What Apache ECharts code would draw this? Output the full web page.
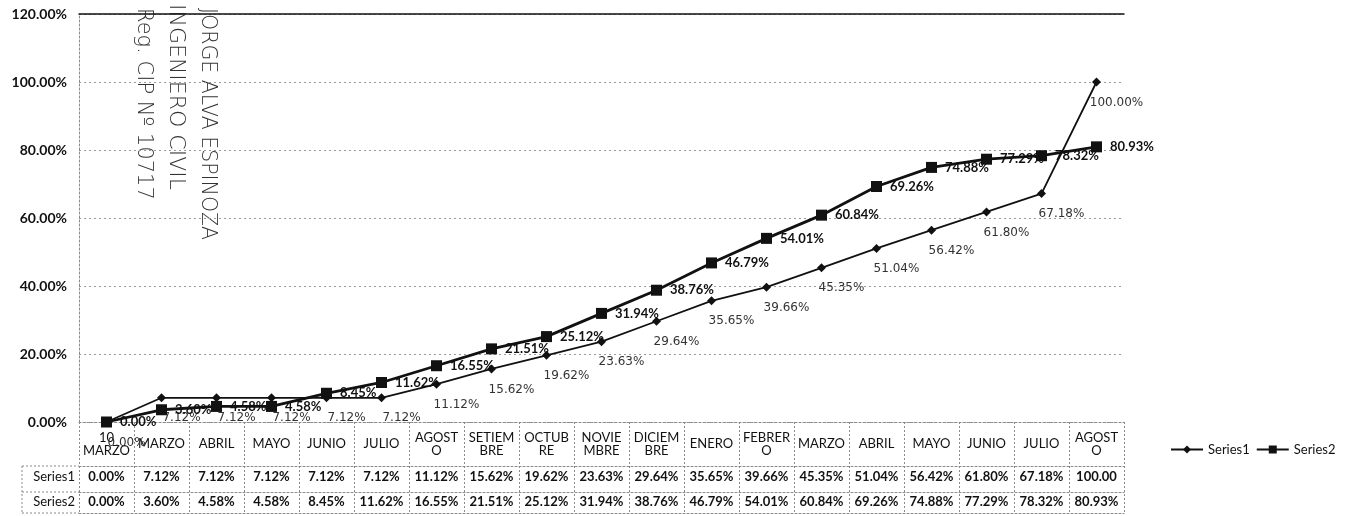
<!DOCTYPE html>
<html><head><meta charset="utf-8">
<script src="https://cdn.jsdelivr.net/npm/echarts@6/dist/echarts.min.js"></script>
<style>html,body{margin:0;padding:0;background:#fff}#c{width:1346px;height:516px}</style>
</head><body><div id="c"></div>
<script>
const categories = ['10\nMARZO','MARZO','ABRIL','MAYO','JUNIO','JULIO','AGOST\nO','SETIEM\nBRE','OCTUB\nRE','NOVIE\nMBRE','DICIEM\nBRE','ENERO','FEBRER\nO','MARZO','ABRIL','MAYO','JUNIO','JULIO','AGOST\nO'];
const series1 = [0.00,7.12,7.12,7.12,7.12,7.12,11.12,15.62,19.62,23.63,29.64,35.65,39.66,45.35,51.04,56.42,61.80,67.18,100.00];
const series2 = [0.00,3.60,4.58,4.58,8.45,11.62,16.55,21.51,25.12,31.94,38.76,46.79,54.01,60.84,69.26,74.88,77.29,78.32,80.93];
const seriesNames = ['Series1','Series2'];
const yTicks = {min:0, max:120, interval:20};
const stampLines = ['Reg. CIP Nº 10717','INGENIERO CIVIL','JORGE ALVA ESPINOZA'];

const pct = v => (+v).toFixed(2) + '%';
const F = 'Lato, "Open Sans", sans-serif';
const dotted = {color:'#8a8a8a', type:[2,2], width:1};

const chart = echarts.init(document.getElementById('c'), null, {renderer:'canvas'});
const gridTop = 14, gridBottom = 94, gridLeft = 79, gridRight = 222;
const chartBottomY = 516 - gridBottom;

chart.setOption({
  animation:false,
  backgroundColor:'#fff',
  grid:{left:gridLeft,right:gridRight,top:gridTop,bottom:gridBottom,containLabel:false},
  legend:{
    left:1165, top:438, itemWidth:32, itemHeight:10, itemGap:6,
    textStyle:{fontFamily:F,fontSize:13,color:'#111'},
    data:seriesNames
  },
  xAxis:[
    {type:'category', data:categories, position:'bottom', boundaryGap:true,
     axisLine:{lineStyle:dotted},
     axisTick:{show:true, length:91, interval:0, lineStyle:dotted},
     axisLabel:{interval:0, margin:22, verticalAlign:'middle', fontFamily:F, fontSize:13, color:'#111', lineHeight:13}},
    {type:'category', data:series1, position:'bottom', offset:44, boundaryGap:true,
     name:seriesNames[0], nameLocation:'start', nameGap:4,
     nameTextStyle:{fontFamily:F,fontSize:13,color:'#111',verticalAlign:'top',padding:[4,0,0,0]},
     axisLine:{lineStyle:dotted}, axisTick:{show:false},
     axisLabel:{interval:0, margin:11, verticalAlign:'middle', fontFamily:F, fontSize:13, fontWeight:'bold', color:'#111',
       formatter:pct, width:50, overflow:'truncate', ellipsis:''}},
    {type:'category', data:series2, position:'bottom', offset:70, boundaryGap:true,
     name:seriesNames[1], nameLocation:'start', nameGap:4,
     nameTextStyle:{fontFamily:F,fontSize:13,color:'#111',verticalAlign:'top',padding:[3,0,0,0]},
     axisLine:{lineStyle:dotted}, axisTick:{show:false},
     axisLabel:{interval:0, margin:10, verticalAlign:'middle', fontFamily:F, fontSize:13, fontWeight:'bold', color:'#111', formatter:pct}},
    {type:'category', data:categories, position:'bottom', offset:91,
     axisLine:{lineStyle:dotted}, axisTick:{show:false}, axisLabel:{show:false}},
    {type:'category', data:categories, position:'top',
     axisLine:{lineStyle:{color:'#111',width:1.5}}, axisTick:{show:false}, axisLabel:{show:false}}
  ],
  yAxis:{type:'value', min:yTicks.min, max:yTicks.max, interval:yTicks.interval,
    axisLine:{show:true, lineStyle:dotted}, axisTick:{show:false},
    splitLine:{show:true, lineStyle:{color:'#9a9a9a', type:[2,3], width:1}},
    axisLabel:{formatter:v=>pct(v), margin:12, fontFamily:F, fontSize:14, fontWeight:'bold', color:'#111'}},
  graphic:[
    {type:'line', shape:{x1:22,y1:chartBottomY+44,x2:gridLeft,y2:chartBottomY+44}, style:{stroke:'#8a8a8a',lineDash:[2,2]}},
    {type:'line', shape:{x1:22,y1:chartBottomY+70,x2:gridLeft,y2:chartBottomY+70}, style:{stroke:'#8a8a8a',lineDash:[2,2]}},
    {type:'line', shape:{x1:22,y1:chartBottomY+91,x2:gridLeft,y2:chartBottomY+91}, style:{stroke:'#8a8a8a',lineDash:[2,2]}},
    {type:'line', shape:{x1:22,y1:chartBottomY+44,x2:22,y2:chartBottomY+91}, style:{stroke:'#8a8a8a',lineDash:[2,2]}},
    {type:'text', x:143, y:8, rotation:-Math.PI/2, style:{text:stampLines[0], font:'300 21px "DejaVu Sans", sans-serif', fill:'#333', textAlign:'left', textVerticalAlign:'middle'}},
    {type:'text', x:176, y:4, rotation:-Math.PI/2, style:{text:stampLines[1], font:'300 22px "DejaVu Sans", sans-serif', fill:'#333', textAlign:'left', textVerticalAlign:'middle'}},
    {type:'text', x:207, y:8, rotation:-Math.PI/2, style:{text:stampLines[2], font:'300 20.5px "DejaVu Sans", sans-serif', fill:'#333', textAlign:'left', textVerticalAlign:'middle'}}
  ],
  series:[
    {name:seriesNames[0], type:'line', data:series1, xAxisIndex:0,
     symbol:'diamond', symbolSize:9, itemStyle:{color:'#111'},
     lineStyle:{color:'#111', width:1.8},
     label:{show:true, position:'bottom', distance:10, offset:[20,0], formatter:p=>pct(p.value),
       fontFamily:'"DejaVu Sans", sans-serif', fontSize:12, color:'#333'}, z:3},
    {name:seriesNames[1], type:'line', data:series2, xAxisIndex:0,
     symbol:'rect', symbolSize:11, itemStyle:{color:'#111'},
     lineStyle:{color:'#111', width:2.8},
     label:{show:true, position:'right', distance:8, formatter:p=>pct(p.value),
       fontFamily:F, fontSize:13, fontWeight:'bold', color:'#111'}, z:4}
  ]
});
</script></body></html>
